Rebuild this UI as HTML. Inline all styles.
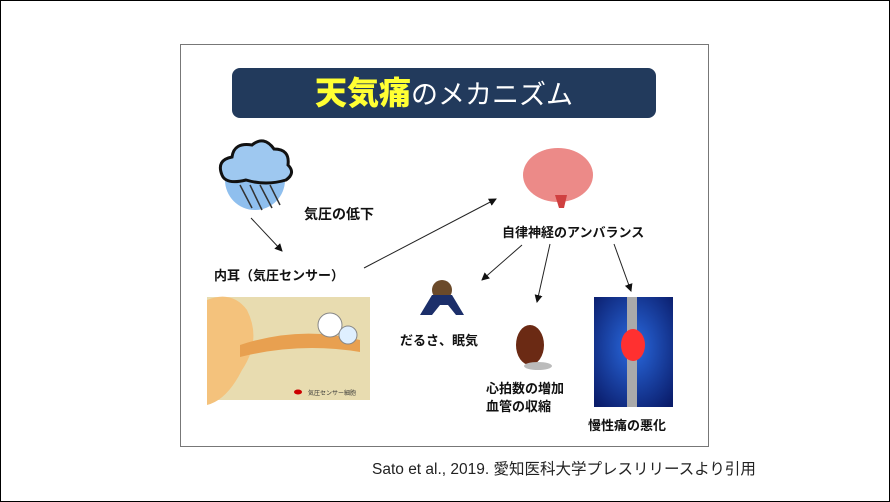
<!DOCTYPE html>
<html><head><meta charset="utf-8"><style>
body{margin:0;width:890px;height:502px;background:#fff;position:relative;overflow:hidden;font-family:"Liberation Sans","Noto Sans CJK JP",sans-serif}
.frame{position:absolute;left:0;top:0;width:888px;height:500px;border:1px solid #000}
.box{position:absolute;left:180px;top:44px;width:527px;height:401px;border:1px solid #777;background:#fff}
.title{position:absolute;left:232px;top:68px;width:424px;height:50px;background:#223a5c;border-radius:8px;color:#fff;font-size:27px;text-align:center;line-height:50px;font-weight:bold}
.title b{color:#ffff33;font-size:32px}
.t{position:absolute;font-weight:bold;font-size:13px;color:#111;white-space:nowrap}
svg{position:absolute;left:0;top:0}
</style></head><body>
<div class="frame"></div>
<div class="box"></div>
<div class="title"><b>天気痛</b><span style="font-weight:normal">のメカニズム</span></div>
<svg width="890" height="502">
<defs><marker id="a" markerWidth="8" markerHeight="8" refX="7" refY="4" orient="auto"><path d="M0,0L8,4L0,8z" fill="#111"/></marker></defs>
<ellipse cx="255" cy="180" rx="30" ry="30" fill="#8fbfee"/>
<path d="M222,175 q-6,-15 10,-18 q2,-15 20,-12 q12,-10 22,4 q16,0 14,16 q8,8 -2,15 q-20,6 -40,0 q-20,5 -24,-5z" fill="#9ec8f0" stroke="#111" stroke-width="3"/>
<g stroke="#333" stroke-width="1.5"><line x1="240" y1="185" x2="252" y2="208"/><line x1="250" y1="185" x2="262" y2="210"/><line x1="260" y1="185" x2="272" y2="208"/><line x1="270" y1="185" x2="280" y2="205"/></g>
<ellipse cx="558" cy="175" rx="35" ry="27" fill="#ec8a88"/>
<path d="M555,195 l12,0 l-3,13 l-5,0z" fill="#d04040"/>
<g stroke="#222" stroke-width="1" fill="none" marker-end="url(#a)">
<line x1="251" y1="218" x2="282" y2="251"/>
<line x1="364" y1="268" x2="496" y2="199"/>
<line x1="522" y1="245" x2="482" y2="280"/>
<line x1="550" y1="244" x2="537" y2="302"/>
<line x1="614" y1="244" x2="631" y2="291"/>
</g>
<rect x="207" y="297" width="163" height="103" fill="#e8dcb0"/>
<path d="M207,300 q25,-10 40,10 q15,30 -5,60 q-15,30 -35,35z" fill="#f4c27c"/>
<path d="M240,345 q60,-20 120,-5 l0,12 q-60,-10 -120,5z" fill="#e8a050"/>
<circle cx="330" cy="325" r="12" fill="#fff" stroke="#888"/>
<circle cx="348" cy="335" r="9" fill="#dfefff" stroke="#888"/>
<ellipse cx="298" cy="392" rx="4" ry="2.5" fill="#c00"/>
<text x="308" y="395" font-size="6" fill="#333">気圧センサー細胞</text>
<ellipse cx="442" cy="290" rx="10" ry="10" fill="#6b4a2a"/>
<path d="M420,315 l12,-20 l20,0 l12,20 l-8,0 l-8,-10 l-8,0 l-8,10z" fill="#1c2f6a"/>
<ellipse cx="530" cy="345" rx="14" ry="20" fill="#6b2a14"/>
<ellipse cx="538" cy="366" rx="14" ry="4" fill="#bbb"/>
<defs><radialGradient id="k" cx="0.5" cy="0.45" r="0.7"><stop offset="0" stop-color="#2a6ae0"/><stop offset="1" stop-color="#0a1c6a"/></radialGradient></defs>
<rect x="594" y="297" width="79" height="110" fill="url(#k)"/>
<rect x="627" y="297" width="10" height="110" fill="#aaa"/>
<ellipse cx="633" cy="345" rx="12" ry="16" fill="#ff3030"/>
</svg>
<div class="t" style="left:304px;top:204px;font-size:14px">気圧の低下</div>
<div class="t" style="left:502px;top:222px">自律神経のアンバランス</div>
<div class="t" style="left:214px;top:265px">内耳（気圧センサー）</div>
<div class="t" style="left:400px;top:330px">だるさ、眠気</div>
<div class="t" style="left:486px;top:380px;line-height:18px">心拍数の増加<br>血管の収縮</div>
<div class="t" style="left:588px;top:415px">慢性痛の悪化</div>
<div style="position:absolute;left:372px;top:457px;font-size:15.5px;color:#222;white-space:nowrap">Sato et al., 2019. 愛知医科大学プレスリリースより引用</div>
</body></html>
